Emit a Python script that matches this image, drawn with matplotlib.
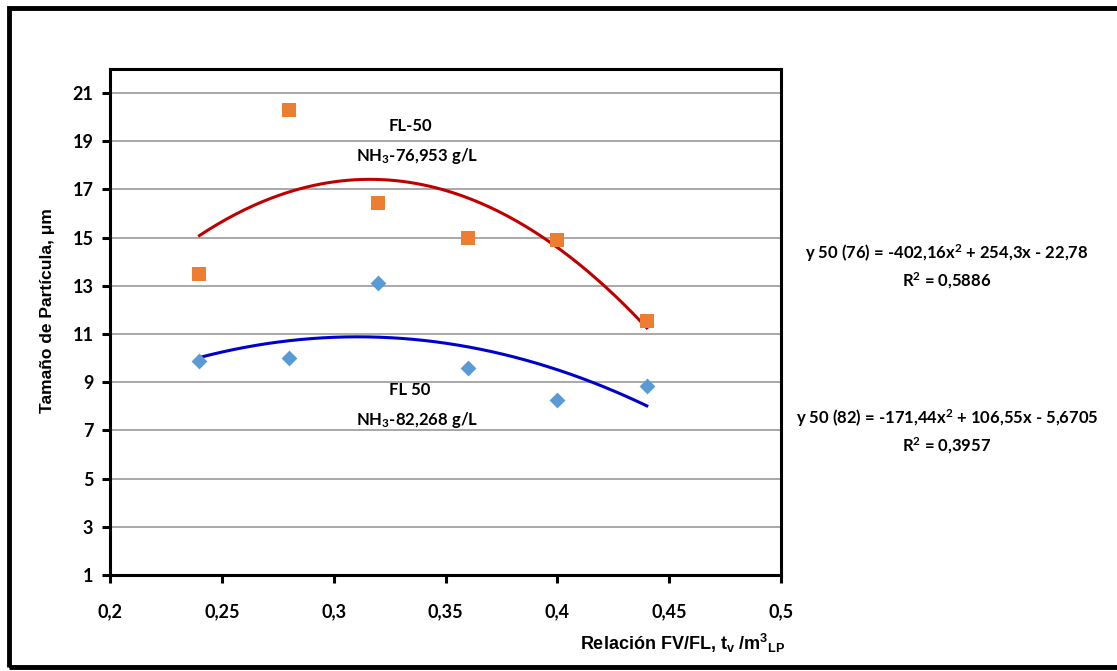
import numpy as np
import matplotlib
matplotlib.use("Agg")
import matplotlib.pyplot as plt
from matplotlib.patches import Rectangle

# datos
x_vals = [0.24, 0.28, 0.32, 0.36, 0.40, 0.44]
y_76 = [13.5, 20.3, 16.45, 15.0, 14.9, 11.55]   # FL-50, NH3 76,953 g/L
y_82 = [9.9, 10.0, 13.13, 9.6, 8.25, 8.85]      # FL 50, NH3 82,268 g/L

# coeficientes de las lineas de tendencia (polinomio grado 2)
coef_76 = [-402.16, 254.3, -22.78]
coef_82 = [-171.44, 106.55, -5.6705]

x_ticks = [0.2, 0.25, 0.3, 0.35, 0.4, 0.45, 0.5]
x_tick_labels = ["0,2", "0,25", "0,3", "0,35", "0,4", "0,45", "0,5"]
y_ticks = [1, 3, 5, 7, 9, 11, 13, 15, 17, 19, 21]

num_font = ["Lato", "DejaVu Sans"]
lab_font = ["Liberation Sans", "DejaVu Sans"]
W = "bold"

plt.rcParams["mathtext.fontset"] = "custom"
plt.rcParams["mathtext.rm"] = "Lato:bold"
plt.rcParams["mathtext.bf"] = "Lato:bold"
plt.rcParams["mathtext.it"] = "Lato:bold"
plt.rcParams["mathtext.sf"] = "Liberation Sans:bold"

fig = plt.figure(figsize=(11.17, 6.71), dpi=100)
ax = fig.add_axes([110 / 1117, 1 - 575 / 671, (781 - 110) / 1117, (575 - 69) / 671])

# marco exterior
fig.patches.append(Rectangle((9 / 1117, 4 / 671), 1.2, 1 - 12 / 671,
                             transform=fig.transFigure, fill=False,
                             edgecolor="black", linewidth=3.5, clip_on=False))

xs = np.linspace(0.24, 0.44, 200)
ax.plot(xs, np.polyval(coef_76, xs), color="#C00000", linewidth=2.2, zorder=3)
ax.plot(xs, np.polyval(coef_82, xs), color="#0000CC", linewidth=2.2, zorder=3)

ax.scatter(x_vals, y_76, marker="s", s=95, color="#ED7D31", zorder=4, linewidths=0)
ax.scatter(x_vals, y_82, marker="D", s=65, color="#5B9BD5", zorder=4, linewidths=0)

ax.set_xlim(0.2, 0.5)
ax.set_ylim(1, 22)
ax.set_xticks(x_ticks)
ax.set_xticklabels(x_tick_labels)
ax.set_yticks(y_ticks)
ax.yaxis.grid(True, color="#999999", linewidth=1.2)
ax.set_axisbelow(True)

for s in ax.spines.values():
    s.set_linewidth(2.2)
ax.tick_params(direction="out", length=6, width=2.2, labelsize=13, pad=6)
ax.tick_params(axis="x", pad=14)
for lbl in ax.get_xticklabels() + ax.get_yticklabels():
    lbl.set_family(num_font)
    lbl.set_fontweight(W)

ax.set_ylabel("Tamaño de Partícula, μm", fontsize=12.5, fontweight="bold",
              family=lab_font)
ax.yaxis.set_label_coords(-55 / 671, (575 - 311) / 506)
fig.text(580 / 1117, 1 - 643 / 671, "Relación FV/FL, t$_\\mathsf{v}$ /m$^\\mathsf{3}$$_\\mathsf{LP}$",
         fontsize=13, fontweight="bold", family=lab_font, va="center", ha="left")

# etiquetas de las series
ax.text(0.3342, 19.65, "FL-50", ha="center", va="center", fontsize=12,
        fontweight=W, family=num_font)
ax.text(0.3375, 18.4, "NH$_3$-76,953 g/L", ha="center", va="center", fontsize=12,
        fontweight=W, family=num_font)
ax.text(0.3342, 8.67, "FL 50", ha="center", va="center", fontsize=12,
        fontweight=W, family=num_font)
ax.text(0.3375, 7.43, "NH$_3$-82,268 g/L", ha="center", va="center", fontsize=12,
        fontweight=W, family=num_font)

# ecuaciones
fig.text(947 / 1117, 1 - 253 / 671, "y 50 (76) = -402,16x$^2$ + 254,3x - 22,78",
         ha="center", va="center", fontsize=12, fontweight=W, family=num_font)
fig.text(947 / 1117, 1 - 281 / 671, "R$^2$ = 0,5886",
         ha="center", va="center", fontsize=12, fontweight=W, family=num_font)
fig.text(947 / 1117, 1 - 418 / 671, "y 50 (82) = -171,44x$^2$ + 106,55x - 5,6705",
         ha="center", va="center", fontsize=12, fontweight=W, family=num_font)
fig.text(947 / 1117, 1 - 446 / 671, "R$^2$ = 0,3957",
         ha="center", va="center", fontsize=12, fontweight=W, family=num_font)

fig.savefig("out.png", dpi=100)
